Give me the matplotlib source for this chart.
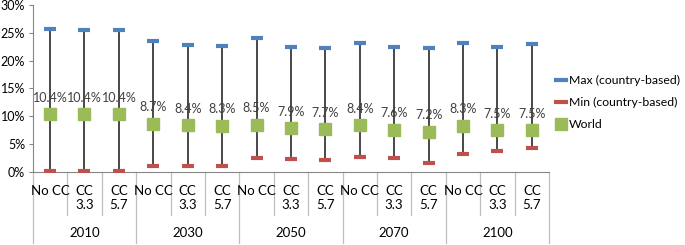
import matplotlib.pyplot as plt
from matplotlib.lines import Line2D
from matplotlib.ticker import FuncFormatter

years = ["2010", "2030", "2050", "2070", "2100"]
scenarios = ["No CC", "CC\n3.3", "CC\n5.7"]

max_vals = [25.7, 25.5, 25.5, 23.5, 22.8, 22.6, 24.0, 22.5, 22.2,
            23.1, 22.5, 22.2, 23.1, 22.5, 23.0]
min_vals = [0.2, 0.2, 0.2, 1.1, 1.1, 1.0, 2.5, 2.3, 2.2,
            2.75, 2.5, 1.7, 3.2, 3.7, 4.3]
world = [10.4, 10.4, 10.4, 8.7, 8.4, 8.3, 8.5, 7.9, 7.7,
         8.4, 7.6, 7.2, 8.3, 7.5, 7.5]

BLUE = "#4F81BD"
RED = "#C0504D"
GREEN = "#9BBB59"
GRID = "#868686"

plt.rcParams["font.family"] = ["Lato", "DejaVu Sans"]

fig = plt.figure(figsize=(6.85, 2.45), dpi=100)
ax = fig.add_axes([0.048, 0.298, 0.7535, 0.682])

x = list(range(len(world)))
ax.vlines(x, min_vals, max_vals, color="#3a3a3a", lw=1.3, zorder=2)
ax.plot(x, max_vals, ls="none", marker="_", ms=9, mew=3, color=BLUE, zorder=3)
ax.plot(x, min_vals, ls="none", marker="_", ms=9, mew=3, color=RED, zorder=3)
ax.plot(x, world, ls="none", marker="s", ms=9, color=GREEN, zorder=4)

for xi, w in zip(x, world):
    ax.annotate(f"{w:.1f}%", (xi, w), xytext=(0, 7.5), textcoords="offset points",
                ha="center", va="bottom", fontsize=9, color="#404040")

ax.set_xlim(-0.5, len(world) - 0.5)
ax.set_ylim(0, 30)
ax.set_yticks(range(0, 31, 5))
ax.yaxis.set_major_formatter(FuncFormatter(lambda v, p: f"{int(v)}%"))
ax.tick_params(axis="y", labelsize=9, length=3, color=GRID, pad=2.5)
ax.set_xticks([])

for s in ["top", "right"]:
    ax.spines[s].set_visible(False)
for s in ["left", "bottom"]:
    ax.spines[s].set_color(GRID)

# category labels under the axis
trans = ax.get_xaxis_transform()
for i in range(len(world)):
    lbl = scenarios[i % 3]
    ax.text(i, -0.075, lbl, transform=trans, ha="center", va="top",
            fontsize=9.5, linespacing=1.2)
for g, yr in enumerate(years):
    ax.text(g * 3 + 1, -0.365, yr, transform=trans, ha="center", va="center",
            fontsize=9.5)

# separators
for k in range(len(world) + 1):
    xb = k - 0.5
    y_end = -0.425 if k % 3 == 0 else -0.257
    ax.plot([xb, xb], [0, y_end], transform=trans, color="#BFBFBF",
            lw=0.9, clip_on=False)

handles = [Line2D([], [], color=BLUE, lw=3),
           Line2D([], [], color=RED, lw=3),
           Line2D([], [], ls="none", marker="s", ms=8, color=GREEN)]
labels = ["Max (country-based)", "Min (country-based)", "World"]
fig.legend(handles, labels, loc="center left", bbox_to_anchor=(0.796, 0.58),
           frameon=False, fontsize=8.8, handlelength=0.8, handletextpad=0.25,
           labelspacing=0.9)

fig.savefig("out.png", dpi=100)
